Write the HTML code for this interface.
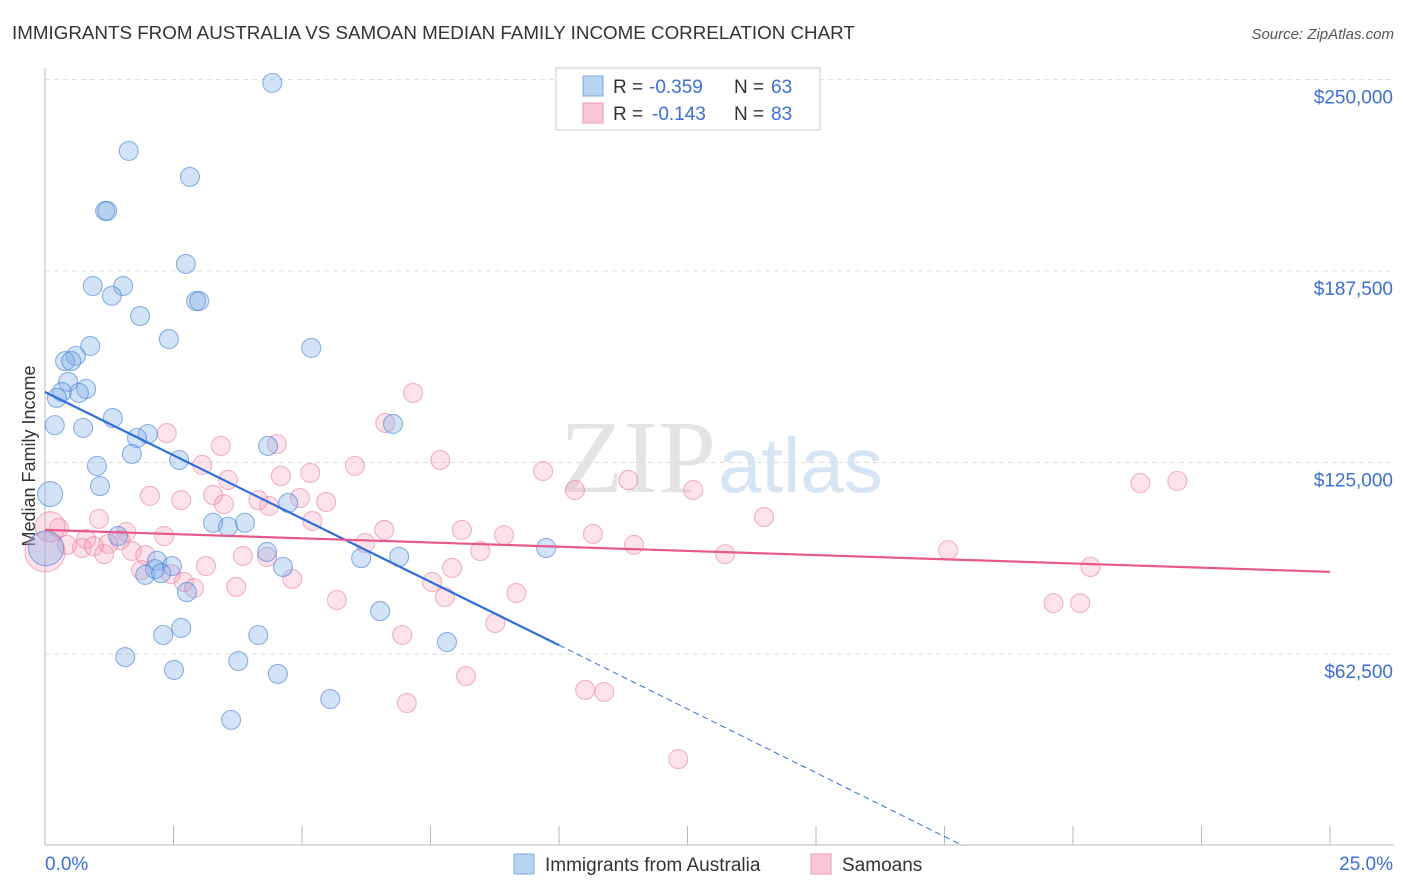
<!DOCTYPE html>
<html><head><meta charset="utf-8"><style>
body{margin:0;background:#fff;font-family:"Liberation Sans",sans-serif;}
svg{display:block}
</style></head><body>
<svg id="chart" width="1406" height="892">
<text x="12" y="39" font-size="18.8" fill="#333">IMMIGRANTS FROM AUSTRALIA VS SAMOAN MEDIAN FAMILY INCOME CORRELATION CHART</text>
<text x="1394" y="39" font-size="15" fill="#555" font-style="italic" text-anchor="end">Source: ZipAtlas.com</text>
<text x="35" y="456" font-size="18" fill="#333" text-anchor="middle" transform="rotate(-90 35 456)">Median Family Income</text>
<text x="716" y="492" font-size="104" fill="#e4e4e4" text-anchor="end" font-family="Liberation Serif,serif">ZIP</text>
<text x="718" y="492" font-size="78" fill="#d6e4f4">atlas</text>
<g id="grid"></g><g id="pts"></g><g id="lines"></g>
<g>
<rect x="556" y="68" width="264" height="62" fill="#fff" stroke="#ccc"/>
<rect x="583" y="76" width="20" height="20" fill="#b8d3f2" stroke="#7aa8e4"/>
<rect x="583" y="103" width="20" height="20" fill="#f9c7d6" stroke="#ee9ab5"/>
<g font-size="19">
<text x="613" y="93" fill="#333">R =</text><text x="649" y="93" fill="#3c6fd6">-0.359</text>
<text x="734" y="93" fill="#333">N =</text><text x="771" y="93" fill="#3c6fd6">63</text></g>
<g font-size="19">
<text x="613" y="120" fill="#333">R =</text><text x="652" y="120" fill="#3c6fd6">-0.143</text>
<text x="734" y="120" fill="#333">N =</text><text x="771" y="120" fill="#3c6fd6">83</text></g>
</g>
<g>
<rect x="514" y="854" width="20" height="20" fill="#b8d3f2" stroke="#7aa8e4"/>
<text x="545" y="871" font-size="19" fill="#333">Immigrants from Australia</text>
<rect x="811" y="854" width="20" height="20" fill="#f9c7d6" stroke="#ee9ab5"/>
<text x="842" y="871" font-size="19" fill="#333">Samoans</text>
</g>
</svg>
<script>
const yTicks=[62500,125000,187500,250000];
const yTickLabels=["$62,500","$125,000","$187,500","$250,000"];
const xTickLabels=["0.0%","25.0%"];
const blueX=[4.42,1.63,2.82,1.17,1.21,2.74,0.93,1.52,1.30,2.94,3.0,1.85,2.41,5.18,0.88,0.60,0.39,0.51,0.45,0.80,0.33,0.66,0.23,1.32,6.77,0.19,0.74,2.0,1.79,4.34,1.69,2.61,1.01,1.07,0.10,4.73,3.27,3.89,3.56,1.42,4.32,6.89,6.15,9.75,2.18,2.47,4.63,2.14,1.95,2.26,2.76,6.52,2.65,2.30,4.15,7.82,1.56,3.76,2.51,4.53,5.55,3.62,0.02];
const blueY=[248900,226700,218200,207100,207100,189800,182600,182600,179400,177700,177700,172800,165300,162400,163000,159800,158100,158100,151300,149000,148000,147700,146100,139500,137600,137200,136300,134300,133000,130400,127800,125800,123900,117300,114700,111800,105300,105300,104000,101000,95800,94200,93800,97100,92900,91200,90900,90200,88300,88900,82700,76500,71000,68700,68700,66400,61500,60200,57300,56000,47800,41000,97000];
const blueR=[9,9,9,9,9,9,9,9,9,9,9,9,9,9,9,9,9,9,9,9,9,9,9,9,9,9,9,9,9,9,9,9,9,9,12,9,9,9,9,9,9,9,9,9,9,9,9,9,9,9,9,9,9,9,9,9,9,9,9,9,9,9,17];
const pinkX=[7.16,6.62,2.37,4.51,3.42,7.69,6.03,3.06,5.16,4.59,9.69,11.35,22.03,21.31,3.56,10.31,12.61,2.04,3.27,4.96,2.65,4.15,5.47,3.48,4.36,13.99,5.20,1.05,0.27,6.60,8.11,1.58,10.66,8.93,2.32,0.80,1.46,6.23,0.43,1.23,0.72,11.46,0.95,8.47,1.69,17.57,1.15,3.85,4.32,13.23,1.95,3.13,7.92,20.34,1.87,2.45,4.81,7.53,2.70,2.90,3.72,9.17,7.78,5.68,19.62,20.14,8.76,6.95,8.19,10.51,10.88,7.04,12.32,0.0,0.1];
const pinkY=[147700,137900,134600,131000,130400,125800,123900,124200,121600,120600,122200,119300,119000,118300,119300,116000,116000,114100,114400,113400,112700,112700,112100,111400,110800,107200,105900,106600,103600,103000,103000,102300,101700,101300,101000,100000,99700,98700,98100,98400,97100,98100,97700,96100,96100,96400,95100,94500,94200,95100,94800,91200,90600,90900,89900,88600,87000,86000,86000,84000,84400,82400,81100,80100,79100,79100,72600,68700,55300,50800,50100,46500,28200,95800,104000];
const blueTrend=[[0,148000],[10,65400]];
const blueDash=[[10,65400],[17.85,0]];
const pinkTrend=[[0,103000],[25,89300]];
const NS="http://www.w3.org/2000/svg";
const X0=45,X1=1330,Ybase=654,Yper=191.5;
const xs=v=>X0+(v/25)*(X1-X0);
const ys=v=>Ybase-(v-62500)/62500*Yper;
function mk(tag,attrs,parent){const e=document.createElementNS(NS,tag);for(const k in attrs)e.setAttribute(k,attrs[k]);parent.appendChild(e);return e;}
const grid=document.getElementById('grid');
yTicks.forEach((t,i)=>{
 const l=mk('line',{x1:45,x2:1394,y1:ys(t),y2:ys(t),stroke:'#ddd','stroke-dasharray':'5,4'},grid);
 
 
 const tx=mk('text',{x:1393,y:ys(t)+24,'font-size':19,fill:'#3c6fd6','text-anchor':'end'},grid);
 tx.textContent=yTickLabels[i];
 
 
});
const ax=mk('line',{x1:45,x2:45,y1:68,y2:845,stroke:'#bbb'},grid);


const bx=mk('line',{x1:45,x2:1394,y1:845,y2:845,stroke:'#bbb'},grid);


for(let i=0;i<=10;i++){const t=mk('line',{x1:xs(i*2.5),x2:xs(i*2.5),y1:826,y2:845,stroke:'#bbb'},grid);
 
 }
const xl0=mk('text',{x:45,y:870,'font-size':19,fill:'#3c6fd6'},grid);xl0.textContent=xTickLabels[0];


const xl1=mk('text',{x:1393,y:870,'font-size':19,fill:'#3c6fd6','text-anchor':'end'},grid);xl1.textContent=xTickLabels[1];


const pts=document.getElementById('pts');
pinkX.forEach((v,i)=>{const c=mk('circle',{cx:xs(v),cy:ys(pinkY[i]),r:i>=73?(i==73?20:15):9.5,fill:'rgba(244,150,180,0.28)',stroke:'rgba(232,120,160,0.55)','stroke-width':1.1},pts);
 
 });
blueX.forEach((v,i)=>{const c=mk('circle',{cx:xs(v),cy:ys(blueY[i]),r:blueR[i]+0.5,fill:'rgba(120,170,230,0.33)',stroke:'rgba(70,130,210,0.6)','stroke-width':1.1},pts);
 
 });
const lines=document.getElementById('lines');
const bl=mk('line',{x1:xs(blueTrend[0][0]),y1:ys(blueTrend[0][1]),x2:xs(blueTrend[1][0]),y2:ys(blueTrend[1][1]),stroke:'#2f6fd8','stroke-width':2.2},lines);


const bd=mk('line',{x1:xs(blueDash[0][0]),y1:ys(blueDash[0][1]),x2:xs(blueDash[1][0]),y2:ys(blueDash[1][1]),stroke:'#2f6fd8','stroke-width':1,'stroke-dasharray':'6,4'},lines);


const pl=mk('line',{x1:xs(pinkTrend[0][0]),y1:ys(pinkTrend[0][1]),x2:xs(pinkTrend[1][0]),y2:ys(pinkTrend[1][1]),stroke:'#e8588a','stroke-width':2.2},lines);


</script>
</body></html>
